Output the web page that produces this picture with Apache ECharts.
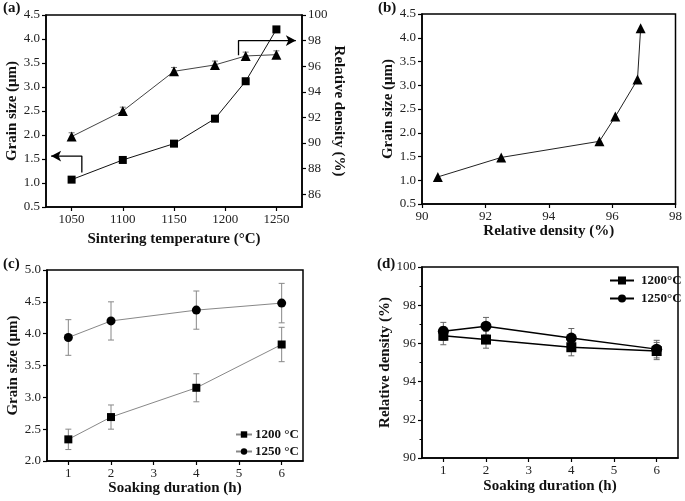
<!DOCTYPE html>
<html><head><meta charset="utf-8">
<script src="https://cdn.jsdelivr.net/npm/echarts@6/dist/echarts.min.js"></script>
<style>html,body{margin:0;padding:0;background:#fff}#c{width:685px;height:501px}</style>
</head><body><div id="c"></div>
<script>
// ---- data ----
const tempC = [1050, 1100, 1150, 1190, 1220, 1250];
const grainA = [1.07, 1.48, 1.82, 2.34, 3.12, 4.20];
const densityA = [90.5, 92.5, 95.6, 96.1, 96.8, 96.9];
const densityErrA = [0.3, 0.3, 0.3, 0.3, 0.3, 0.3];
const tempTicks = [1050, 1100, 1150, 1200, 1250];
const densityTicksA = [86, 88, 90, 92, 94, 96, 98, 100];
const soakH = [1, 2, 4, 6];
const soakTicks = [1, 2, 3, 4, 5, 6];
const grain1200 = [2.34, 2.69, 3.15, 3.83];
const grain1200Err = [0.16, 0.19, 0.22, 0.27];
const grain1250 = [3.94, 4.20, 4.37, 4.48];
const grain1250Err = [0.28, 0.30, 0.30, 0.31];
const dens1200 = [96.4, 96.2, 95.8, 95.6];
const dens1200Err = [0.47, 0.45, 0.45, 0.45];
const dens1250 = [96.63, 96.9, 96.28, 95.7];
const dens1250Err = [0.47, 0.46, 0.5, 0.46];
const arrowLeftPath = [[1060, 1.22], [1060, 1.56], [1030, 1.56]];
const arrowRightPath = [[1213, 96.85], [1213, 98.0], [1269, 98.0]];
const legendC = ['1200 °C', '1250 °C'];
const legendD = ['1200°C', '1250°C'];

// ---- helpers ----
const SERIF = 'Liberation Serif';
const pair = (xs, ys) => xs.map((x, i) => [x, ys[i]]);
const errData = (xs, ys, es) => xs.map((x, i) => [x, ys[i] - es[i], ys[i] + es[i]]);
function arrowData(path, rot) {
  return path.map((p, i) => i === path.length - 1
    ? { value: p, symbol: 'arrow', symbolSize: [8, 10], symbolRotate: rot }
    : { value: p, symbol: 'none' });
}
function errRender(color, cap) {
  return function (params, api) {
    const x = api.value(0), lo = api.value(1), hi = api.value(2);
    const a = api.coord([x, lo]), b = api.coord([x, hi]);
    const st = { stroke: color, lineWidth: 1 };
    return { type: 'group', children: [
      { type: 'line', shape: { x1: a[0], y1: a[1], x2: b[0], y2: b[1] }, style: st },
      { type: 'line', shape: { x1: a[0] - cap, y1: a[1], x2: a[0] + cap, y2: a[1] }, style: st },
      { type: 'line', shape: { x1: b[0] - cap, y1: b[1], x2: b[0] + cap, y2: b[1] }, style: st }
    ]};
  };
}
const axisLine = { lineStyle: { color: '#000', width: 1.5 } };
const tickStyle = { show: true, inside: false, length: 4, lineStyle: { color: '#000', width: 1.2 } };
const labelStyle = { fontFamily: SERIF, fontSize: 13, color: '#222', margin: 6 };
const nameStyle = { fontFamily: SERIF, fontSize: 15, fontWeight: 'bold', color: '#111' };
const fix1 = v => v.toFixed(1);
const plain = v => String(v);

function ax(grid, min, max, name, gap, opts) {
  return Object.assign({
    type: 'value', gridIndex: grid, min, max, name, nameLocation: 'middle', nameGap: gap,
    nameTextStyle: nameStyle, axisLine, axisTick: Object.assign({}, tickStyle),
    axisLabel: Object.assign({ formatter: plain }, labelStyle), splitLine: { show: false }
  }, opts || {});
}
const gridBase = { show: true, borderColor: '#000', borderWidth: 1.5, backgroundColor: 'transparent', containLabel: false };

const option = {
  animation: false,
  backgroundColor: '#fff',
  grid: [
    Object.assign({ left: 46, top: 15, width: 256, height: 192 }, gridBase),
    Object.assign({ left: 422, top: 14, width: 256, height: 190 }, gridBase),
    Object.assign({ left: 47, top: 270, width: 256, height: 191 }, gridBase),
    Object.assign({ left: 422, top: 267, width: 256, height: 191 }, gridBase)
  ],
  xAxis: [
    ax(0, 1025, 1275, 'Sintering temperature (°C)', 25, {
      axisTick: Object.assign({}, tickStyle, { customValues: tempTicks }),
      axisLabel: Object.assign({ formatter: plain }, labelStyle, { customValues: tempTicks })
    }),
    ax(1, 90, 98, 'Relative density (%)', 18, { interval: 2 }),
    ax(2, 0.5, 6.5, 'Soaking duration (h)', 19, {
      axisTick: Object.assign({}, tickStyle, { customValues: soakTicks }),
      axisLabel: Object.assign({ formatter: plain }, labelStyle, { customValues: soakTicks })
    }),
    ax(3, 0.5, 6.5, 'Soaking duration (h)', 21, {
      axisTick: Object.assign({}, tickStyle, { customValues: soakTicks }),
      axisLabel: Object.assign({ formatter: plain }, labelStyle, { customValues: soakTicks })
    })
  ],
  yAxis: [
    ax(0, 0.5, 4.5, 'Grain size (μm)', 26, { interval: 0.5, axisLabel: Object.assign({}, labelStyle, { formatter: fix1 }) }),
    ax(0, 85, 100, 'Relative density (%)', 22, {
      position: 'right', nameRotate: -90,
      axisTick: Object.assign({}, tickStyle, { customValues: densityTicksA }),
      axisLabel: Object.assign({ formatter: plain }, labelStyle, { customValues: densityTicksA })
    }),
    ax(1, 0.5, 4.5, 'Grain size (μm)', 23, { interval: 0.5, axisLabel: Object.assign({}, labelStyle, { formatter: fix1 }) }),
    ax(2, 2.0, 5.0, 'Grain size (μm)', 26, { interval: 0.5, axisLabel: Object.assign({}, labelStyle, { formatter: fix1 }) }),
    ax(3, 90, 100, 'Relative density (%)', 26, {
      interval: 2,
      minorTick: { show: true, splitNumber: 2, length: 2.5, lineStyle: { color: '#000', width: 1 } }
    })
  ],
  legend: [
    { data: legendC, orient: 'vertical', left: 230, top: 423, itemGap: 4, itemWidth: 16, itemHeight: 8,
      textStyle: { fontFamily: SERIF, fontSize: 13, fontWeight: 'bold', color: '#111', padding: [0, 0, 0, -2] } },
    { data: legendD, orient: 'vertical', left: 604, top: 269, itemGap: 5, itemWidth: 24, itemHeight: 10,
      textStyle: { fontFamily: SERIF, fontSize: 13, fontWeight: 'bold', color: '#111', padding: [0, 0, 0, 2] } }
  ],
  graphic: [
    { type: 'text', left: 3, top: 1, style: { text: '(a)', font: 'bold 15px "Liberation Serif"', fill: '#111' } },
    { type: 'text', left: 378, top: 1, style: { text: '(b)', font: 'bold 15px "Liberation Serif"', fill: '#111' } },
    { type: 'text', left: 3, top: 257, style: { text: '(c)', font: 'bold 15px "Liberation Serif"', fill: '#111' } },
    { type: 'text', left: 377, top: 257, style: { text: '(d)', font: 'bold 15px "Liberation Serif"', fill: '#111' } }
  ],
  series: [
    // (a)
    { type: 'custom', xAxisIndex: 0, yAxisIndex: 1, renderItem: errRender('#777', 3), data: errData(tempC, densityA, densityErrA), encode: { x: 0, y: [1, 2] }, z: 1 },
    { type: 'line', xAxisIndex: 0, yAxisIndex: 0, data: pair(tempC, grainA), symbol: 'rect', symbolSize: 8,
      itemStyle: { color: '#000' }, lineStyle: { color: '#111', width: 1 }, z: 3 },
    { type: 'line', xAxisIndex: 0, yAxisIndex: 1, data: pair(tempC, densityA), symbol: 'triangle', symbolSize: 10,
      itemStyle: { color: '#000' }, lineStyle: { color: '#444', width: 1 }, z: 3 },
    { type: 'line', xAxisIndex: 0, yAxisIndex: 0, data: arrowData(arrowLeftPath, 90), showSymbol: true,
      itemStyle: { color: '#000' }, lineStyle: { color: '#000', width: 1.3 }, z: 4 },
    { type: 'line', xAxisIndex: 0, yAxisIndex: 1, data: arrowData(arrowRightPath, -90), showSymbol: true,
      itemStyle: { color: '#000' }, lineStyle: { color: '#000', width: 1.3 }, z: 4 },
    // (b)
    { type: 'line', xAxisIndex: 1, yAxisIndex: 2, data: pair(densityA, grainA), symbol: 'triangle', symbolSize: 10,
      itemStyle: { color: '#000' }, lineStyle: { color: '#222', width: 1 } },
    // (c)
    { type: 'custom', xAxisIndex: 2, yAxisIndex: 3, renderItem: errRender('#888', 3), data: errData(soakH, grain1200, grain1200Err), encode: { x: 0, y: [1, 2] }, z: 1 },
    { type: 'custom', xAxisIndex: 2, yAxisIndex: 3, renderItem: errRender('#888', 3), data: errData(soakH, grain1250, grain1250Err), encode: { x: 0, y: [1, 2] }, z: 1 },
    { name: legendC[0], type: 'line', xAxisIndex: 2, yAxisIndex: 3, data: pair(soakH, grain1200), symbol: 'rect', symbolSize: 8,
      itemStyle: { color: '#000' }, lineStyle: { color: '#888', width: 1 }, z: 3 },
    { name: legendC[1], type: 'line', xAxisIndex: 2, yAxisIndex: 3, data: pair(soakH, grain1250), symbol: 'circle', symbolSize: 9,
      itemStyle: { color: '#000' }, lineStyle: { color: '#888', width: 1 }, z: 3 },
    // (d)
    { type: 'custom', xAxisIndex: 3, yAxisIndex: 4, renderItem: errRender('#666', 3), data: errData(soakH, dens1200, dens1200Err), encode: { x: 0, y: [1, 2] }, z: 1 },
    { type: 'custom', xAxisIndex: 3, yAxisIndex: 4, renderItem: errRender('#666', 3), data: errData(soakH, dens1250, dens1250Err), encode: { x: 0, y: [1, 2] }, z: 1 },
    { name: legendD[0], type: 'line', xAxisIndex: 3, yAxisIndex: 4, data: pair(soakH, dens1200), symbol: 'rect', symbolSize: 10,
      itemStyle: { color: '#000' }, lineStyle: { color: '#000', width: 1.5 }, z: 3 },
    { name: legendD[1], type: 'line', xAxisIndex: 3, yAxisIndex: 4, data: pair(soakH, dens1250), symbol: 'circle', symbolSize: 11,
      itemStyle: { color: '#000' }, lineStyle: { color: '#000', width: 1.5 }, z: 3 }
  ]
};
const chart = echarts.init(document.getElementById('c'), null, { renderer: 'canvas' });
chart.setOption(option);
</script></body></html>
